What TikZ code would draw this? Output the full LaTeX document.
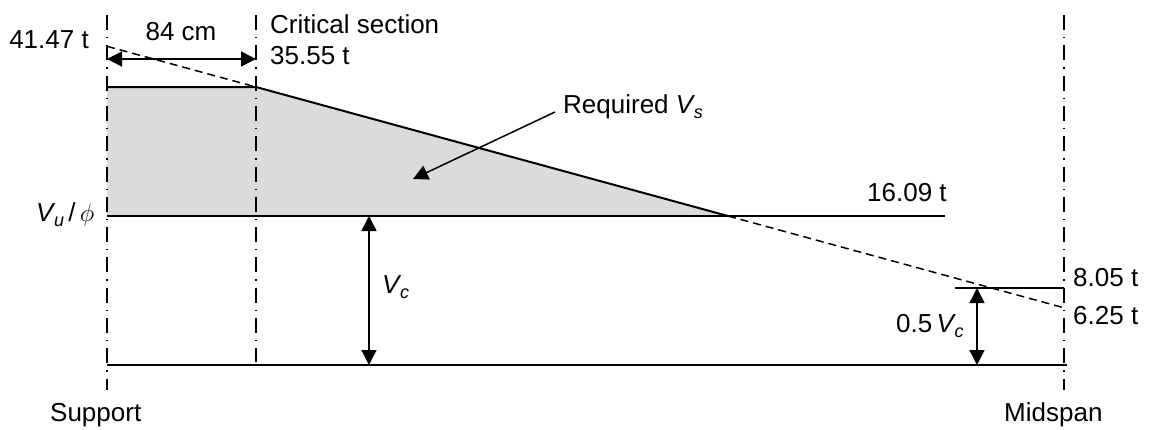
\documentclass[tikz,border=0pt]{standalone}
\usepackage{fontspec}
\setmainfont{Liberation Sans}
\usetikzlibrary{arrows.meta}
\begin{document}
\begin{tikzpicture}[x=1pt,y=-1pt,
  lbl/.style={inner sep=0pt,font=\fontsize{26}{30}\selectfont},
  solid line/.style={line width=2pt},
  axisline/.style={line width=1.3pt,dash pattern=on 15pt off 7pt on 1.3pt off 7pt},
  envelope/.style={line width=1.5pt,dash pattern=on 8pt off 5pt},
  dimarrow/.style={line width=1.5pt,{Triangle[length=15pt,width=15pt]}-{Triangle[length=15pt,width=15pt]}},
  leader/.style={line width=1.5pt,-{Triangle[length=15pt,width=15pt]}},
  shade/.style={fill=black!14,draw=none}]
\useasboundingbox (0,0) rectangle (1150,429);
% key points
\coordinate (S0) at (107,46.3);
\coordinate (A) at (107,87);
\coordinate (B) at (256,87);
\coordinate (C) at (728,216);
\coordinate (D) at (107,216);
\coordinate (M0) at (1064,307.8);
% shaded area
\fill[shade] (A) -- (B) -- (C) -- (D) -- cycle;
% axis lines
\coordinate (Ltop) at (107,15); \coordinate (Lbot) at (107,390);
\coordinate (Ctop) at (256,15); \coordinate (Cbot) at (256,362);
\coordinate (Rtop) at (1064,15); \coordinate (Rbot) at (1064,390);
\draw[axisline] (Ltop) -- (Lbot);
\draw[axisline] (Ctop) -- (Cbot);
\draw[axisline] (Rtop) -- (Rbot);
% lines
\draw[envelope] (S0) -- (B);
\draw[envelope] (C) -- (M0);
\draw[solid line] (A) -- (B) -- (C);
\coordinate (VuE) at (945,216);
\draw[solid line] (D) -- (VuE);
\coordinate (Z0) at (107,365); \coordinate (Z1) at (1067,365);
\draw[solid line] (Z0) -- (Z1);
\coordinate (H0) at (955,288); \coordinate (H1) at (1064,288);
\draw[solid line] (H0) -- (H1);
% dimension arrows
\coordinate (d1a) at (107,59); \coordinate (d1b) at (256,59);
\draw[dimarrow] (d1a) -- (d1b);
\coordinate (vca) at (369,216); \coordinate (vcb) at (369,365);
\draw[dimarrow] (vca) -- (vcb);
\coordinate (hva) at (977,288); \coordinate (hvb) at (977,365);
\draw[dimarrow] (hva) -- (hvb);
\coordinate (rq0) at (555,112); \coordinate (rq1) at (413,179);
\draw[leader] (rq0) -- (rq1);
% labels
\node[lbl,anchor=base east] (t1) at (89,48) {41.47 t};
\node[lbl,anchor=base] (t2) at (181,40) {84 cm};
\node[lbl,anchor=base west] (t3) at (270,33) {Critical section};
\node[lbl,anchor=base west] (t4) at (270,64) {35.55 t};
\node[lbl,anchor=base west] (t5) at (563,113) {Required \textit{V\kern0.5pt\raisebox{-0.2em}{\fontsize{18}{20}\selectfont s}}};
\node[lbl,anchor=base west] (t6) at (867,201) {16.09 t};
\node[lbl,anchor=base west] (t7) at (36,221) {\textit{V\kern0.5pt\raisebox{-0.2em}{\fontsize{18}{20}\selectfont u}}\,/\,$\phi$};
\node[lbl,anchor=base west] (t8) at (382,293) {\textit{V\kern0.5pt\raisebox{-0.2em}{\fontsize{18}{20}\selectfont c}}};
\node[lbl,anchor=base west] (t9) at (896,332) {0.5\,\textit{V\kern0.5pt\raisebox{-0.2em}{\fontsize{18}{20}\selectfont c}}};
\node[lbl,anchor=base west] (t10) at (1073,286) {8.05 t};
\node[lbl,anchor=base west] (t11) at (1073,324) {6.25 t};
\node[lbl,anchor=base west] (t12) at (50,421) {Support};
\node[lbl,anchor=base west] (t13) at (1004,421) {Midspan};
\end{tikzpicture}
\end{document}
